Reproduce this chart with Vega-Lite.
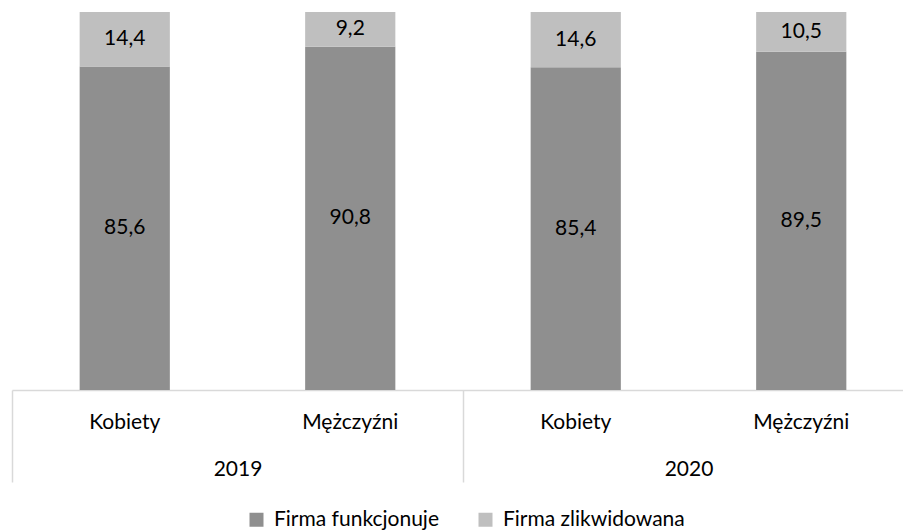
{
  "$schema": "https://vega.github.io/schema/vega-lite/v6.json",
  "width": 902,
  "height": 378,
  "padding": {"left": 12, "top": 12, "right": 0, "bottom": 140},
  "autosize": {"type": "none"},
  "config": {
    "view": {"stroke": null},
    "font": "Lato",
    "locale": {"number": {"decimal": ",", "thousands": " ", "grouping": [3], "currency": ["", " zł"]}}
  },
  "data": {
    "values": [
      {"year": "2019", "cat": "2019|Kobiety", "series": "Firma funkcjonuje", "value": 85.6},
      {"year": "2019", "cat": "2019|Kobiety", "series": "Firma zlikwidowana", "value": 14.4},
      {"year": "2019", "cat": "2019|Mężczyźni", "series": "Firma funkcjonuje", "value": 90.8},
      {"year": "2019", "cat": "2019|Mężczyźni", "series": "Firma zlikwidowana", "value": 9.2},
      {"year": "2020", "cat": "2020|Kobiety", "series": "Firma funkcjonuje", "value": 85.4},
      {"year": "2020", "cat": "2020|Kobiety", "series": "Firma zlikwidowana", "value": 14.6},
      {"year": "2020", "cat": "2020|Mężczyźni", "series": "Firma funkcjonuje", "value": 89.5},
      {"year": "2020", "cat": "2020|Mężczyźni", "series": "Firma zlikwidowana", "value": 10.5}
    ]
  },
  "layer": [
    {
      "encoding": {
        "x": {
          "field": "cat", "type": "nominal", "sort": null,
          "scale": {"paddingInner": 0.6, "paddingOuter": 0.3},
          "axis": {
            "orient": "bottom",
            "title": null, "labelAngle": 0, "ticks": false, "tickSize": 0,
            "domainColor": "#d9d9d9", "domainWidth": 1.5,
            "labelExpr": "split(datum.label, '|')[1]",
            "labelFont": "Lato", "labelFontSize": 21, "labelColor": "#000000",
            "labelPadding": 21
          }
        },
        "y": {
          "field": "value", "type": "quantitative", "stack": "zero",
          "scale": {"domain": [0, 100], "nice": false},
          "axis": null
        },
        "order": {"field": "series", "sort": "ascending"}
      },
      "layer": [
        {
          "mark": {"type": "bar"},
          "encoding": {
            "color": {
              "field": "series", "type": "nominal",
              "scale": {"domain": ["Firma funkcjonuje", "Firma zlikwidowana"], "range": ["#8f8f8f", "#bfbfbf"]},
              "legend": {
                "title": null, "orient": "none", "direction": "horizontal",
                "legendX": 234, "legendY": 497,
                "padding": 0,
                "symbolType": "square", "symbolSize": 196, "symbolStrokeWidth": 0,
                "labelOffset": 7, "labelLimit": 400,
                "labelFontSize": 21, "labelFont": "Lato", "labelColor": "#000000",
                "columnPadding": 36
              }
            }
          }
        },
        {
          "mark": {"type": "text", "fontSize": 21, "font": "Lato", "color": "#000000"},
          "encoding": {
            "y": {"field": "value", "type": "quantitative", "stack": "zero", "bandPosition": 0.5},
            "text": {"field": "value", "type": "quantitative", "format": ".1f"},
            "detail": {"field": "series"}
          }
        }
      ]
    },
    {
      "mark": {"type": "text", "opacity": 0},
      "encoding": {
        "x": {
          "field": "year", "type": "nominal", "sort": null,
          "scale": {"paddingInner": 0, "paddingOuter": 0},
          "axis": {
            "orient": "bottom",
            "title": null, "labelAngle": 0, "domain": false,
            "ticks": true, "tickBand": "extent", "tickSize": 92, "tickColor": "#d9d9d9", "tickWidth": 1.5,
            "labelFont": "Lato", "labelFontSize": 21, "labelColor": "#000000",
            "labelPadding": -24
          }
        },
        "text": {"value": ""}
      }
    }
  ],
  "resolve": {"scale": {"x": "independent"}, "axis": {"x": "independent"}}
}
